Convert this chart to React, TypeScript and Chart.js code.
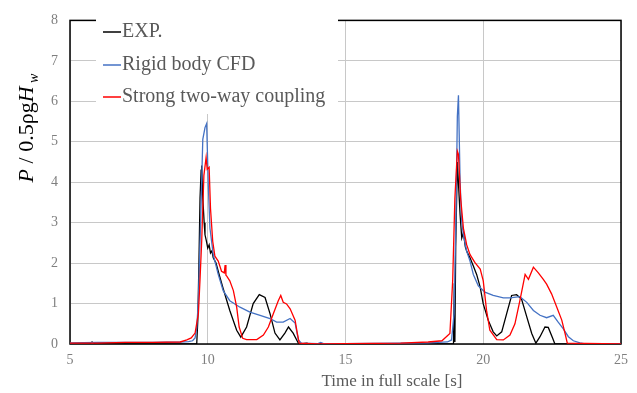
import React, { useEffect, useRef } from "react";
import { Chart, registerables } from "chart.js";

Chart.register(...registerables);

// ---- data (time in full scale [s], P / 0.5ρgHw) ----
const expT = [5, 5.7, 5.8, 5.9, 6.0, 9.6, 9.64, 9.68, 9.72, 9.76, 9.78, 9.82, 9.87, 9.9, 9.95, 10.0, 10.05, 10.1, 10.15, 10.2, 10.3, 10.4, 10.55, 10.8, 11.05, 11.2, 11.41, 11.65, 11.87, 12.08, 12.26, 12.44, 12.62, 12.8, 12.93, 13.1, 13.29, 13.4, 13.6, 13.7, 18.92, 18.95, 18.97, 19.0, 19.06, 19.09, 19.16, 19.22, 19.28, 19.35, 19.4, 19.52, 19.64, 19.76, 19.89, 20.0, 20.18, 20.36, 20.49, 20.67, 20.85, 21.03, 21.21, 21.39, 21.58, 21.76, 21.91, 22.06, 22.24, 22.36, 22.52, 22.6, 25];
const expV = [0, 0, 0.05, 0.01, 0, 0, 0.6, 2.0, 3.6, 4.3, 4.41, 3.6, 3.0, 2.7, 2.55, 2.37, 2.45, 2.25, 2.3, 2.13, 2.0, 1.75, 1.39, 0.83, 0.34, 0.17, 0.42, 1.0, 1.22, 1.15, 0.75, 0.27, 0.1, 0.27, 0.42, 0.27, 0.02, 0, 0.02, 0, 0, 1.5, 0.05, 2.4, 4.5, 4.1, 3.19, 2.62, 2.75, 2.4, 2.29, 2.13, 1.93, 1.72, 1.4, 0.99, 0.59, 0.3, 0.2, 0.3, 0.75, 1.2, 1.22, 1.11, 0.67, 0.26, 0.02, 0.18, 0.42, 0.41, 0.14, 0, 0];

const cfdT = [5, 6, 7, 8, 9, 9.3, 9.45, 9.54, 9.6, 9.66, 9.74, 9.82, 9.9, 9.96, 10.02, 10.08, 10.2, 10.38, 10.56, 10.8, 11.17, 11.53, 11.9, 12.26, 12.5, 12.74, 12.99, 13.17, 13.29, 13.4, 14.0, 14.1, 14.2, 15, 18, 18.7, 18.85, 18.94, 19.01, 19.06, 19.1, 19.16, 19.22, 19.28, 19.4, 19.52, 19.64, 19.82, 20.06, 20.36, 20.73, 20.97, 21.33, 21.58, 21.82, 22.06, 22.3, 22.54, 22.72, 22.9, 23.09, 23.27, 23.51, 23.7, 25];
const cfdV = [0.03, 0.04, 0.04, 0.04, 0.05, 0.06, 0.08, 0.15, 0.4, 1.07, 3.0, 5.06, 5.35, 5.45, 3.92, 2.86, 2.21, 1.72, 1.32, 1.07, 0.91, 0.79, 0.71, 0.63, 0.54, 0.54, 0.63, 0.52, 0.1, 0.02, 0.01, 0.04, 0.01, 0.01, 0.03, 0.05, 0.1, 0.75, 3.19, 5.63, 6.15, 4.0, 3.02, 2.7, 2.29, 2.05, 1.72, 1.44, 1.28, 1.2, 1.14, 1.14, 1.17, 1.03, 0.83, 0.71, 0.65, 0.71, 0.54, 0.38, 0.18, 0.08, 0.03, 0, 0];

const twoWayT = [5, 6, 7, 8, 9, 9.24, 9.4, 9.54, 9.66, 9.72, 9.78, 9.86, 9.94, 9.98, 10.05, 10.1, 10.18, 10.26, 10.38, 10.5, 10.6, 10.63, 10.66, 10.69, 10.8, 10.93, 11.05, 11.14, 11.27, 11.41, 11.78, 12.02, 12.2, 12.38, 12.56, 12.65, 12.74, 12.86, 12.99, 13.17, 13.25, 13.32, 14, 15, 17, 18, 18.5, 18.79, 18.89, 18.97, 19.06, 19.1, 19.18, 19.28, 19.4, 19.52, 19.7, 19.89, 20.0, 20.12, 20.24, 20.49, 20.73, 20.97, 21.15, 21.33, 21.52, 21.64, 21.82, 22.0, 22.18, 22.3, 22.48, 22.67, 22.85, 22.97, 23.05, 25];
const twoWayV = [0.02, 0.02, 0.04, 0.04, 0.05, 0.1, 0.15, 0.27, 0.75, 1.6, 2.54, 4.17, 4.61, 4.32, 4.37, 3.35, 2.54, 2.17, 2.05, 1.8, 1.76, 1.95, 1.7, 1.68, 1.56, 1.32, 0.91, 0.42, 0.14, 0.11, 0.11, 0.22, 0.42, 0.75, 1.07, 1.2, 1.03, 0.99, 0.87, 0.59, 0.27, 0.02, 0, 0.01, 0.02, 0.05, 0.08, 0.26, 1.56, 3.6, 4.77, 4.69, 3.6, 2.86, 2.45, 2.21, 2.01, 1.85, 1.56, 0.83, 0.34, 0.11, 0.1, 0.22, 0.5, 1.07, 1.72, 1.6, 1.9, 1.76, 1.6, 1.48, 1.24, 0.91, 0.59, 0.26, 0.02, 0];

const seriesLabels = ["EXP.", "Rigid body CFD", "Strong two-way coupling"];
const seriesColors = ["#000000", "#4472C4", "#FF0000"];
const xTitle = "Time in full scale [s]";

const toPts = (t: number[], v: number[]) => t.map((x, i) => ({ x, y: v[i] }));

const SERIF = "'Liberation Serif', 'DejaVu Serif', serif";

const framePlugin = {
  id: "frame",
  beforeDatasetsDraw(chart: any) {
    const { ctx, chartArea: a } = chart;
    ctx.save();
    ctx.strokeStyle = "#000";
    ctx.lineWidth = 1.5;
    ctx.strokeRect(a.left, a.top, a.right - a.left, a.bottom - a.top);
    ctx.restore();
  },
  afterDatasetsDraw(chart: any) {
    const { ctx } = chart;
    ctx.save();
    // legend box
    ctx.fillStyle = "#fff";
    ctx.fillRect(96, 10, 242, 104);
    ctx.font = `20px ${SERIF}`;
    ctx.textBaseline = "middle";
    ctx.textAlign = "left";
    const ys = [32, 65, 97];
    seriesLabels.forEach((lab, i) => {
      ctx.strokeStyle = seriesColors[i];
      ctx.lineWidth = 1.5;
      ctx.beginPath();
      ctx.moveTo(103, ys[i]);
      ctx.lineTo(121, ys[i]);
      ctx.stroke();
      ctx.fillStyle = "#595959";
      ctx.fillText(lab, 122, ys[i]);
    });
    // y title
    ctx.save();
    ctx.translate(33, 128);
    ctx.rotate(-Math.PI / 2);
    const segs = [
      { t: "P", f: `italic 22px ${SERIF}`, dy: 0 },
      { t: " / 0.5ρg", f: `22px ${SERIF}`, dy: 0 },
      { t: "H", f: `italic 22px ${SERIF}`, dy: 0 },
      { t: " w", f: `italic 14px ${SERIF}`, dy: 5 },
    ];
    let total = 0;
    segs.forEach((s) => {
      ctx.font = s.f;
      total += ctx.measureText(s.t).width;
    });
    let x = -total / 2;
    ctx.fillStyle = "#000";
    ctx.textBaseline = "alphabetic";
    segs.forEach((s) => {
      ctx.font = s.f;
      ctx.fillText(s.t, x, s.dy);
      x += ctx.measureText(s.t).width;
    });
    ctx.restore();
    // x title
    ctx.font = `17px ${SERIF}`;
    ctx.fillStyle = "#595959";
    ctx.textAlign = "center";
    ctx.textBaseline = "middle";
    ctx.fillText(xTitle, 392, 382);
    ctx.restore();
  },
};

export default function App() {
  const ref = useRef<HTMLCanvasElement>(null);
  useEffect(() => {
    document.body.style.margin = "0";
    const mk = (i: number, t: number[], v: number[], order: number) => ({
      label: seriesLabels[i],
      data: toPts(t, v),
      borderColor: seriesColors[i],
      backgroundColor: seriesColors[i],
      borderWidth: 1.3,
      pointRadius: 0,
      tension: 0,
      order,
    });
    const chart = new Chart(ref.current!, {
      type: "line",
      data: {
        datasets: [mk(0, expT, expV, 2), mk(1, cfdT, cfdV, 1), mk(2, twoWayT, twoWayV, 0)],
      },
      options: {
        animation: false,
        responsive: false,
        layout: { padding: { top: 16, right: 16, left: 0, bottom: 0 } },
        plugins: { legend: { display: false }, tooltip: { enabled: false } },
        scales: {
          x: {
            type: "linear",
            min: 5,
            max: 25,
            afterFit: (s: any) => { s.height = 49; },
            ticks: { stepSize: 5, padding: 8, color: "#7f7f7f", font: { family: SERIF, size: 14 } },
            grid: { color: "#c8c8c8", lineWidth: 1, drawTicks: false },
            border: { display: false },
          },
          y: {
            min: 0,
            max: 8,
            afterFit: (s: any) => { s.width = 70; },
            ticks: { stepSize: 1, padding: 12, color: "#7f7f7f", font: { family: SERIF, size: 14 } },
            grid: { color: "#c8c8c8", lineWidth: 1, drawTicks: false },
            border: { display: false },
          },
        },
      },
      plugins: [framePlugin],
    });
    return () => chart.destroy();
  }, []);
  return (
    <div style={{ width: 637, height: 393 }}>
      <canvas ref={ref} width={637} height={393} />
    </div>
  );
}
